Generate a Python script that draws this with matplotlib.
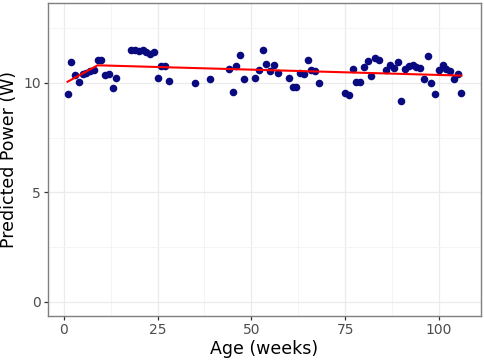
import matplotlib.pyplot as plt
import numpy as np

# weeks and predicted power (W)
weeks = [1, 2, 3, 4, 5, 6, 7, 8, 9, 10, 11, 12, 13, 14,
         18, 19, 20, 21, 22, 23, 24, 25, 26, 27, 28, 35, 39,
         44, 45, 46, 47, 48, 51, 52, 53, 54, 55, 56, 57, 60, 61, 62,
         63, 64, 65, 66, 67, 68, 75, 76, 77, 78, 79, 80, 81, 82, 83, 84,
         86, 87, 88, 89, 90, 91, 92, 93, 94, 95, 96, 97, 98, 99, 100,
         101, 102, 103, 104, 105, 106]
power = [9.47, 10.97, 10.35, 10.04, 10.39, 10.47, 10.54, 10.59, 11.04, 11.04,
         10.36, 10.42, 9.76, 10.24,
         11.48, 11.48, 11.46, 11.5, 11.42, 11.3, 11.42, 10.2, 10.77, 10.77,
         10.09, 9.98, 10.17,
         10.62, 9.56, 10.78, 11.25, 10.17, 10.24, 10.57, 11.48, 10.85, 10.54,
         10.81, 10.45, 10.21, 9.82, 9.82,
         10.47, 10.38, 11.05, 10.57, 10.54, 9.97, 9.54, 9.44, 10.62, 10.06,
         10.06, 10.72, 11.0, 10.29, 11.12, 11.05,
         10.6, 10.81, 10.69, 10.94, 9.15, 10.62, 10.77, 10.81, 10.72, 10.66,
         10.17, 11.22, 9.97, 9.49, 10.57,
         10.81, 10.62, 10.54, 10.17, 10.39, 9.52]

# fitted segmented trend
fit_x = [1, 9, 106]
fit_y = [10.05, 10.8, 10.33]

fig = plt.figure(figsize=(4.84, 3.6), dpi=100)
ax = fig.add_axes([0.099, 0.122, 0.895, 0.870])

ax.scatter(weeks, power, s=30, color='#0a0a80', zorder=3, linewidths=0)
ax.plot(fit_x, fit_y, color='red', lw=1.5, zorder=4)

ax.set_xlim(-4.25, 111.25)
ax.set_ylim(-0.65, 13.65)
ax.set_xticks([0, 25, 50, 75, 100])
ax.set_xticks([12.5, 37.5, 62.5, 87.5], minor=True)
ax.set_yticks([0, 5, 10])
ax.set_yticks([2.5, 7.5, 12.5], minor=True)

ax.grid(True, which='major', color='#ebebeb', lw=0.9, zorder=0)
ax.grid(True, which='minor', color='#f3f3f3', lw=0.6, zorder=0)
ax.set_axisbelow(True)
for s in ax.spines.values():
    s.set_color('#7f7f7f')
    s.set_linewidth(1.0)

ax.tick_params(which='major', length=3, width=0.9, color='#333333',
               labelsize=10, labelcolor='#4d4d4d', pad=2)
ax.tick_params(which='minor', length=0)

ax.set_xlabel('Age (weeks)', fontsize=12.5, labelpad=2)
ax.set_ylabel('Predicted Power (W)', fontsize=12.5, labelpad=4)

fig.savefig('out.png', dpi=100)
